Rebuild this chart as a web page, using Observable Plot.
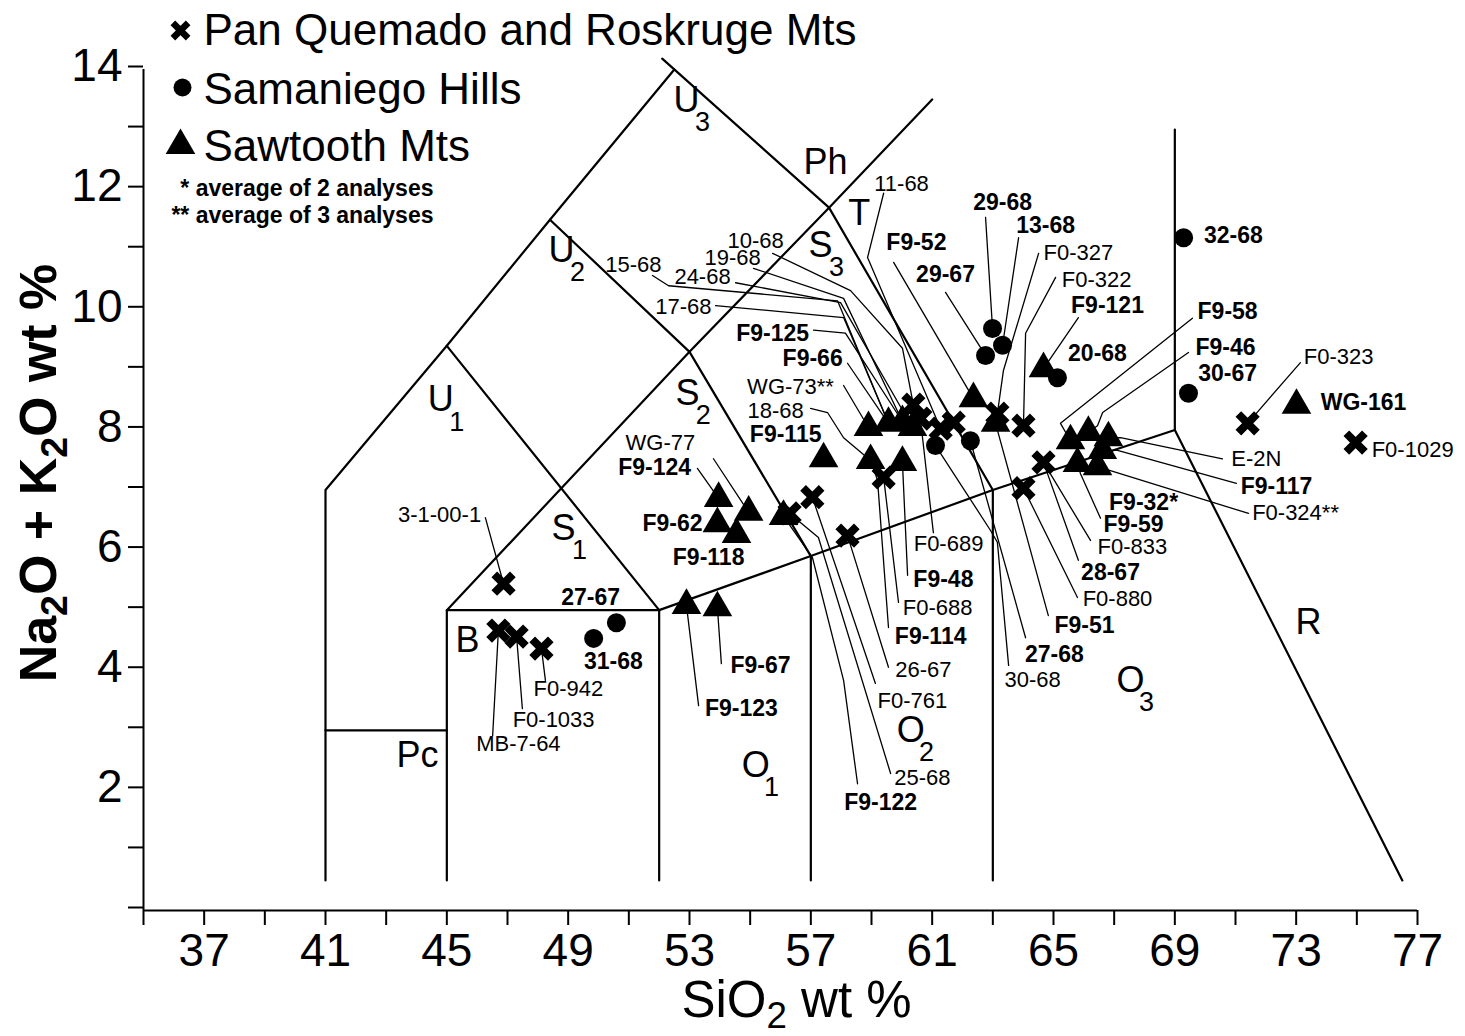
<!DOCTYPE html>
<html>
<head>
<meta charset="utf-8">
<script src="https://cdn.jsdelivr.net/npm/d3@7"></script>
<script src="https://cdn.jsdelivr.net/npm/@observablehq/plot@0.6"></script>
<style>
  html, body { margin: 0; padding: 0; background: #fff; }
  #chart { width: 1465px; height: 1036px; }
</style>
</head>
<body>
<div id="chart"></div>
<script>
// ---------- Axis ticks ----------
const xTicks = d3.range(35, 78, 2);
const xTickLabels = [37, 41, 45, 49, 53, 57, 61, 65, 69, 73, 77];
const yTicks = d3.range(0, 15, 1);
const yTickLabels = [2, 4, 6, 8, 10, 12, 14];

// ---------- Legend ----------
const legendSeries = ["Pan Quemado and Roskruge Mts", "Samaniego Hills", "Sawtooth Mts"];
const legendNotes = ["* average of 2 analyses", "** average of 3 analyses"];

// ---------- TAS field boundaries (SiO2, Na2O+K2O) ----------
const tasBoundaries = [
  [[41, 0.5], [41, 7], [45, 9.4], [48.4, 11.5], [52.5, 14]],
  [[41, 3], [45, 3]],
  [[45, 0.5], [45, 5], [52, 5]],
  [[45, 5], [53, 9.3], [57.6, 11.7], [61, 13.5]],
  [[45, 9.4], [52, 5]],
  [[48.4, 11.5], [53, 9.3], [57, 5.9]],
  [[52.1, 14.18], [57.6, 11.7], [63, 7]],
  [[52, 0.5], [52, 5], [57, 5.9], [63, 7], [69, 8]],
  [[57, 0.5], [57, 5.9]],
  [[63, 0.5], [63, 7]],
  [[69, 13], [69, 8], [76.5, 0.5]]
];

// ---------- Field names ----------
const regionNames  = ["U", "Ph", "T", "S", "U", "S", "U", "S", "B", "Pc", "O", "O", "O", "R"];
const regionSubs   = ["3", "", "", "3", "2", "2", "1", "1", "", "", "1", "2", "3", ""];
const regionSiO2   = [52.90, 57.48, 58.60, 57.32, 48.78, 52.93, 44.80, 48.85, 45.68, 44.03, 55.18, 60.29, 67.54, 73.41];
const regionAlkali = [13.48, 12.45, 11.60, 11.07, 10.99, 8.61, 8.50, 6.36, 4.49, 2.58, 2.41, 3.00, 3.83, 4.79];

// ---------- Samples: Pan Quemado and Roskruge Mts (crosses) ----------
const panSamples = ["3-1-00-1", "MB-7-64", "F0-1033", "F0-942", "25-68", "F0-761", "26-67", "F0-688", "10-68",
                    "F0-689", "11-68", "", "F0-327", "F0-322", "F0-833", "F0-880", "F0-323", "F0-1029"];
const panSiO2   = [46.87, 46.70, 47.30, 48.12, 56.30, 57.05, 58.21, 59.40, 60.38, 60.61, 61.28, 61.71, 63.15, 64.01, 64.67, 64.01, 71.40, 74.96];
const panAlkali = [5.44, 4.66, 4.56, 4.36, 6.61, 6.88, 6.24, 7.21, 8.42, 8.19, 8.02, 8.12, 8.27, 8.07, 7.46, 7.03, 8.11, 7.79];

// ---------- Samples: Samaniego Hills (dots) ----------
const samSamples = ["31-68", "27-67", "30-68", "27-68", "29-67", "29-68", "13-68", "20-68", "30-67", "32-68"];
const samSiO2   = [49.84, 50.59, 61.11, 62.26, 62.76, 62.99, 63.32, 65.13, 69.45, 69.29];
const samAlkali = [4.53, 4.79, 7.74, 7.82, 9.24, 9.69, 9.41, 8.87, 8.61, 11.20];

// ---------- Samples: Sawtooth Mts (triangles) ----------
const sawSamples = ["F9-123", "F9-67", "F9-124", "WG-77", "F9-62", "F9-118", "F9-122", "F9-115", "WG-73", "F9-66", "F9-125",
                    "24-68", "18-68", "F9-48", "F9-52", "F9-51", "F9-121", "F9-58", "F9-46", "E-2N", "F9-59", "F0-324", "F9-117", "WG-161"];
const sawSiO2   = [52.90, 53.92, 53.96, 54.95, 53.92, 54.55, 56.10, 57.42, 58.90, 59.56, 60.02, 60.35, 58.97, 60.02, 62.36, 63.09,
                   64.67, 65.56, 66.15, 66.81, 65.79, 66.45, 66.61, 73.01];
const sawAlkali = [5.08, 5.04, 6.86, 6.63, 6.44, 6.26, 6.56, 7.52, 8.04, 8.11, 8.14, 8.04, 7.49, 7.46, 8.52, 8.11,
                   9.02, 7.82, 7.96, 7.87, 7.44, 7.39, 7.66, 8.41];

// ---------- Sample labels (label place and leader bends in data units) ----------
const labelText = ["3-1-00-1", "MB-7-64", "F0-1033", "F0-942", "27-67", "31-68", "F9-123", "F9-67", "F9-62", "F9-118",
  "F9-124", "WG-77", "F9-115", "18-68", "WG-73**", "F9-66", "F9-125", "17-68", "24-68", "15-68", "19-68", "10-68",
  "11-68", "F9-52", "29-67", "29-68", "13-68", "F0-327", "F0-322", "F9-121", "20-68", "32-68", "30-67", "F9-58", "F9-46",
  "F0-323", "WG-161", "F0-1029", "E-2N", "F9-117", "F0-324**", "F9-32*", "F9-59", "F0-833", "28-67", "F0-880", "F9-51",
  "27-68", "30-68", "F0-689", "F9-48", "F0-688", "F9-114", "26-67", "F0-761", "25-68", "F9-122"];
const labelSiO2 = [44.76, 47.36, 48.52, 49.01, 49.74, 50.49, 54.71, 55.34, 52.44, 53.63,
  51.85, 52.04, 56.17, 55.84, 56.33, 57.06, 55.74, 52.80, 53.43, 51.15, 54.42, 55.18,
  59.99, 60.48, 61.44, 63.32, 64.74, 65.82, 66.42, 66.78, 66.45, 70.93, 70.74, 70.74, 70.67,
  74.40, 75.22, 76.84, 71.69, 72.35, 72.98, 67.97, 67.64, 67.60, 66.88, 67.11, 66.02,
  65.03, 64.31, 61.54, 61.37, 61.18, 60.95, 60.71, 60.35, 60.68, 59.30];
const labelAlkali = [6.58, 2.78, 3.18, 3.68, 5.21, 4.15, 3.36, 4.08, 6.44, 5.88,
  7.37, 7.79, 7.92, 8.31, 8.71, 9.19, 9.61, 10.04, 10.55, 10.74, 10.87, 11.15,
  12.10, 11.12, 10.59, 11.79, 11.40, 10.95, 10.49, 10.07, 9.27, 11.24, 8.94, 9.97, 9.37,
  9.21, 8.46, 7.66, 7.52, 7.06, 6.61, 6.79, 6.43, 6.06, 5.63, 5.19, 4.74,
  4.26, 3.83, 6.11, 5.51, 5.04, 4.56, 4.01, 3.48, 2.21, 1.80];
const labelTarget = ["3-1-00-1", "MB-7-64", "F0-1033", "F0-942", null, null, "F9-123", "F9-67", null, null,
  "F9-124", "WG-77", null, "18-68", "WG-73", "F9-66", "F9-125", "F9-66", "24-68", "F9-66", "F9-125", "10-68",
  "11-68", "F9-52", "29-67", "29-68", "13-68", "F0-327", "F0-322", "F9-121", null, null, null, "F9-58", "F9-46",
  "F0-323", null, null, "E-2N", "F9-117", "F0-324", null, "F9-59", "F0-833", "F0-833", "F0-880", "F9-51",
  "27-68", "30-68", "F0-689", "F9-48", "F0-688", "18-68", "26-67", "F0-761", "25-68", "F9-122"];
const labelVia = [
  [[46.27, 6.54]], [[46.51, 2.91]], [[47.49, 3.36]], [[48.25, 3.83]], [], [], [[53.30, 3.41]], [[54.05, 4.11]], [], [],
  [[53.26, 7.36]], [[53.79, 7.52]], [], [[56.99, 8.36], [57.55, 8.29], [58.08, 7.87]], [[58.08, 8.74]], [[58.21, 9.11]],
  [[57.09, 9.66], [58.14, 9.61]], [[53.86, 10.07], [58.08, 9.87]], [[54.52, 10.45], [57.98, 10.12]],
  [[51.78, 10.57], [52.31, 10.40], [57.88, 10.15]], [[55.11, 10.69], [58.08, 10.19]],
  [[55.74, 10.94], [58.31, 10.32], [60.02, 9.36]],
  [[59.40, 11.94], [58.87, 10.87]], [[59.73, 10.79]], [[61.44, 10.29]], [[62.76, 11.54]], [[63.85, 11.20]],
  [[64.51, 10.94], [63.35, 8.99]], [[65.07, 10.54], [64.08, 9.61]], [[65.82, 9.87]], [], [], [],
  [[69.58, 9.86], [65.23, 8.11]], [[69.45, 9.29], [66.62, 8.29], [66.45, 8.07]],
  [[73.14, 9.12]], [], [], [[70.57, 7.52], [67.21, 7.87]], [[71.03, 7.11], [67.11, 7.66]], [[71.43, 6.61]], [],
  [[66.55, 6.53], [65.89, 7.27]], [[66.22, 6.16]], [[65.82, 5.83]], [[65.79, 5.21]], [[64.83, 4.91]],
  [[64.08, 4.54]], [[63.52, 4.08], [63.15, 6.13], [62.92, 6.33]], [[61.04, 6.29]], [[60.19, 5.58]], [[59.89, 5.13]],
  [[59.56, 4.71], [59.20, 7.16]], [[59.56, 4.05]], [[59.13, 3.78]], [[59.63, 2.28], [57.25, 6.21]],
  [[58.54, 2.11], [58.08, 3.83], [57.05, 5.88]]
];
const boldLabels = new Set(["27-67", "31-68", "F9-123", "F9-67", "F9-62", "F9-118", "F9-124", "F9-115", "F9-66", "F9-125",
  "F9-52", "29-67", "29-68", "13-68", "F9-121", "20-68", "32-68", "30-67", "F9-58", "F9-46", "WG-161", "F9-117",
  "F9-32*", "F9-59", "28-67", "F9-51", "27-68", "F9-48", "F9-114", "F9-122"]);

// ---------- Build tables ----------
const pan = panSamples.map((s, i) => ({name: s, x: panSiO2[i], y: panAlkali[i]}));
const sam = samSamples.map((s, i) => ({name: s, x: samSiO2[i], y: samAlkali[i]}));
const saw = sawSamples.map((s, i) => ({name: s, x: sawSiO2[i], y: sawAlkali[i]}));
const byName = new Map([...pan, ...sam, ...saw].filter(d => d.name).map(d => [d.name, d]));

const labels = labelText.map((t, i) => ({text: t, x: labelSiO2[i], y: labelAlkali[i], target: labelTarget[i], via: labelVia[i]}));
const leaderRows = labels.filter(d => d.target && byName.has(d.target)).flatMap(d => {
  const tg = byName.get(d.target);
  return [...d.via.map(([x, y]) => ({id: d.text, x, y})), {id: d.text, x: tg.x, y: tg.y}];
});
const boundaryRows = tasBoundaries.flatMap((line, i) => line.map(([x, y]) => ({id: i, x, y})));
const regions = regionNames.map((n, i) => ({name: n, sub: regionSubs[i], x: regionSiO2[i], y: regionAlkali[i]}));

const legendDy = [-25, 34, 91];
const legendSymDy = [-39, 18, 76];

const chart = Plot.plot({
  width: 1465,
  height: 1036,
  marginLeft: 143,
  marginRight: 48,
  marginTop: 69,
  marginBottom: 126,
  style: {fontFamily: "'Liberation Sans', Arial, sans-serif", color: "#000", background: "#fff", overflow: "visible"},
  x: {domain: [35, 77]},
  y: {domain: [0, 14]},
  marks: [
    Plot.line(boundaryRows, {x: "x", y: "y", z: "id", stroke: "#000", strokeWidth: 2.2}),
    Plot.line(leaderRows, {x: "x", y: "y", z: "id", stroke: "#000", strokeWidth: 1.3}),
    Plot.ruleY([0], {stroke: "#000", strokeWidth: 2}),
    Plot.ruleX([35], {stroke: "#000", strokeWidth: 2}),
    Plot.axisX({ticks: xTicks, tickSize: 15, tickPadding: 8, strokeWidth: 2, fontSize: 46, label: null,
      tickFormat: d => xTickLabels.includes(d) ? String(d) : ""}),
    Plot.axisY({ticks: yTicks, tickSize: 15, tickPadding: 6, strokeWidth: 2, fontSize: 46, label: null, dy: -3,
      tickFormat: d => yTickLabels.includes(d) ? String(d) : ""}),
    Plot.dot(pan, {x: "x", y: "y", symbol: "times", r: 8.5, stroke: "#000", strokeWidth: 8}),
    Plot.dot(sam, {x: "x", y: "y", r: 9.5, fill: "#000"}),
    Plot.dot(saw, {x: "x", y: "y", symbol: "triangle", r: 11, fill: "#000"}),
    Plot.text(labels, {filter: d => boldLabels.has(d.text), x: "x", y: "y", text: "text", fontSize: 23, fontWeight: "bold"}),
    Plot.text(labels, {filter: d => !boldLabels.has(d.text), x: "x", y: "y", text: "text", fontSize: 22}),
    Plot.text(regions, {x: "x", y: "y", text: "name", fontSize: 36}),
    Plot.text(regions.filter(d => d.sub), {x: "x", y: "y", text: "sub", fontSize: 27, dx: 16, dy: 22}),
    // axis titles
    Plot.text(["SiO_2 wt %"], {frameAnchor: "bottom", text: d => d, dx: 16, dy: 106, textAnchor: "middle",
      lineAnchor: "bottom", fontSize: 51}),
    Plot.text(["Na_2O + K_2O wt %"], {frameAnchor: "left", text: d => d, dx: -88, dy: -17, rotate: -90,
      textAnchor: "middle", lineAnchor: "bottom", fontSize: 52, fontWeight: "bold"}),
    // legend
    Plot.dot([0], {frameAnchor: "top-left", dx: 37, dy: legendSymDy[0], symbol: "times", r: 7, stroke: "#000", strokeWidth: 6.5}),
    Plot.dot([0], {frameAnchor: "top-left", dx: 39, dy: legendSymDy[1], r: 9, fill: "#000"}),
    Plot.dot([0], {frameAnchor: "top-left", dx: 37, dy: legendSymDy[2], symbol: "triangle", r: 11, fill: "#000"}),
    ...legendSeries.map((s, i) => Plot.text([s], {frameAnchor: "top-left", text: d => d, dx: 60, dy: legendDy[i],
      textAnchor: "start", lineAnchor: "bottom", fontSize: 44})),
    ...legendNotes.map((s, i) => Plot.text([s], {frameAnchor: "top-left", text: d => d, dx: 290, dy: 126 + i * 27,
      textAnchor: "end", lineAnchor: "bottom", fontSize: 23, fontWeight: "bold"}))
  ]
});

// subscripts for "_digit" in texts
d3.select(chart).selectAll("text").each(function () {
  const t = this.textContent;
  if (!/_\d/.test(t)) return;
  const el = d3.select(this);
  el.text(null);
  let pending = false;
  for (const p of t.split(/(_\d)/)) {
    if (!p) continue;
    if (p[0] === "_") {
      el.append("tspan").attr("font-size", "72%").attr("dy", "0.3em").text(p.slice(1));
      pending = true;
    } else {
      const ts = el.append("tspan").text(p);
      if (pending) ts.attr("dy", "-0.216em");
      pending = false;
    }
  }
});

document.getElementById("chart").appendChild(chart);
</script>
</body>
</html>
